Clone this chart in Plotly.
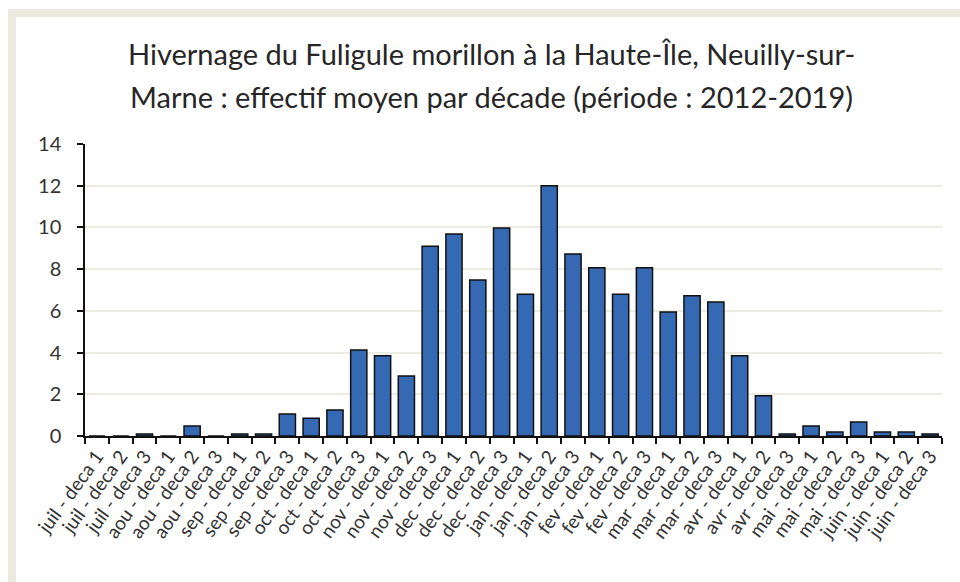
import plotly.graph_objects as go

months = ["juil", "aou", "sep", "oct", "nov", "dec", "jan", "fev", "mar", "avr", "mai", "juin"]
categories = [f"{m} - deca {d}" for m in months for d in (1, 2, 3)]
values = [0, 0, 0.1, 0, 0.48, 0, 0.1, 0.1, 1.05, 0.85, 1.25, 4.12,
          3.85, 2.88, 9.1, 9.68, 7.48, 9.97, 6.8, 12.0, 8.73, 8.07, 6.8, 8.07,
          5.95, 6.72, 6.43, 3.85, 1.93, 0.1, 0.48, 0.19, 0.67, 0.19, 0.19, 0.1]
y_ticks = [0, 2, 4, 6, 8, 10, 12, 14]
title_lines = ["Hivernage du Fuligule morillon à la Haute-Île, Neuilly-sur-",
               "Marne : effectif moyen par décade (période : 2012-2019)"]

W, H = 960, 582
L, R, T, B = 85, 18, 144, 146
pw, ph = W - L - R, H - T - B

def px(x):
    return (x - L) / pw

def py(y):
    return (H - B - y) / ph

FONT = "Lato, Liberation Sans, sans-serif"

fig = go.Figure()
fig.add_trace(go.Bar(
    x=categories, y=values,
    marker=dict(color="#3569B4", line=dict(color="#111111", width=1.5)),
))

annotations = [
    dict(text=line, xref="paper", yref="paper", x=px(491), y=py(yc),
         xanchor="center", yanchor="middle", showarrow=False,
         font=dict(family=FONT, size=29, color="#262626"))
    for line, yc in zip(title_lines, (53, 97))
]

fig.update_layout(
    width=W, height=H,
    margin=dict(l=L, r=R, t=T, b=B, autoexpand=False),
    paper_bgcolor="white", plot_bgcolor="white",
    bargap=0.32,
    showlegend=False,
    annotations=annotations,
    font=dict(family=FONT, color="#262626"),
    xaxis=dict(
        type="category", tickangle=-54, tickson="boundaries",
        ticks="outside", ticklen=6, tickcolor="#111111", tickwidth=1.5,
        showline=True, linecolor="#111111", linewidth=1.5,
        showgrid=False, tickfont=dict(size=19, color="#333333"),
    ),
    yaxis=dict(
        range=[0, 14], tickvals=y_ticks, ticks="outside", ticklen=6,
        tickcolor="#111111", tickwidth=1.5,
        showline=True, linecolor="#111111", linewidth=1.5,
        gridcolor="#EEECE1", gridwidth=1.5, zeroline=False,
        ticklabelstandoff=12,
        tickfont=dict(size=20, color="#333333"),
    ),
    shapes=[
        dict(type="rect", xref="paper", yref="paper", x0=px(8), x1=px(962), y0=py(9), y1=py(584),
             fillcolor="#ECE9DF", line=dict(width=0), layer="below"),
        dict(type="rect", xref="paper", yref="paper", x0=px(16), x1=px(962), y0=py(17), y1=py(584),
             fillcolor="white", line=dict(width=0), layer="below"),
    ],
)

fig.write_html("out.html", config={"displayModeBar": False},
               post_script="document.body.style.margin='0';")
